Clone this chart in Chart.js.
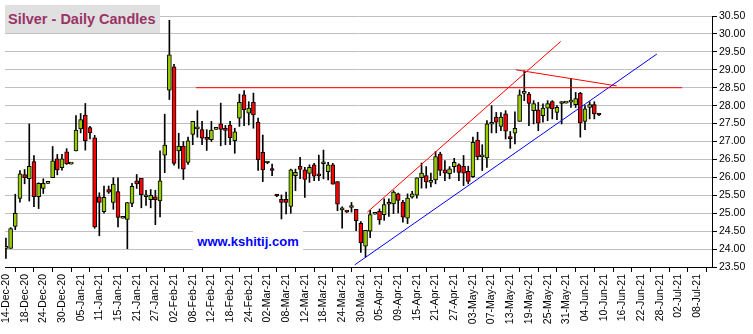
<!DOCTYPE html>
<html>
<head>
<meta charset="utf-8">
<title>Silver - Daily Candles</title>
<script src="https://cdn.jsdelivr.net/npm/chart.js@4.4.0/dist/chart.umd.min.js"></script>
<style>
    body { margin: 0; background: #fff; }
    #wrap { position: relative; width: 753px; height: 334px; }
    #title {
        position: absolute; left: 5px; top: 5px; width: 155px; height: 28px;
        background: #e0e0e0; color: #993366; box-sizing: border-box; padding-left: 3px;
        font: bold 14.5px 'Liberation Sans', Arial, sans-serif; line-height: 28px; white-space: nowrap;
    }
    #site {
        position: absolute; left: 193px; top: 229px; width: 110px; height: 25px;
        background: #fff; color: #0000ff; text-align: center;
        font: bold 13px 'Liberation Sans', Arial, sans-serif; line-height: 25px;
    }
</style>
</head>
<body>
<div id="wrap">
    <canvas id="chart"></canvas>
    <div id="title">Silver - Daily Candles</div>
    <div id="site">www.kshitij.com</div>
</div>
<script>
// Trading days from 14-Dec-20, one entry per weekday (holidays are flat)
const open = [24.02, 24.02, 24.63, 25.41, 26.08, 25.96, 26.44, 25.46, 25.69, 25.83,
    25.99, 26.52, 26.27, 26.71, 26.37, 26.74, 27.35, 27.74, 27.39, 27.10,
    25.46, 25.04, 25.66, 25.30, 25.60, 24.86, 24.83, 25.27, 25.90, 25.97,
    25.46, 25.38, 25.46, 25.34, 26.62, 28.43, 29.08, 26.74, 26.87, 26.42,
    27.20, 27.35, 27.33, 27.08, 27.05, 27.34, 27.49, 27.33, 27.46, 27.02,
    27.65, 28.30, 27.79, 28.09, 27.54, 26.70, 26.40, 26.21, 25.50, 25.39,
    25.39, 25.19, 26.05, 26.31, 26.21, 26.11, 26.35, 26.06, 26.38, 26.16,
    26.35, 25.88, 25.09, 25.05, 25.16, 25.11, 24.72, 24.08, 24.50, 24.97,
    25.05, 24.96, 25.25, 25.26, 25.54, 25.31, 24.86, 25.45, 25.50, 25.99,
    26.05, 25.86, 25.93, 26.65, 26.21, 26.10, 26.30, 26.35, 26.31, 26.17,
    26.02, 27.04, 26.57, 26.54, 27.48, 27.68, 27.42, 27.77, 27.10, 27.23,
    27.56, 28.34, 28.32, 27.86, 27.88, 27.72, 27.93, 28.11, 27.81, 28.06,
    28.07, 28.10, 28.03, 28.34, 27.56, 27.95, 28.03, 27.76];
const high = [24.31, 24.60, 25.53, 26.19, 26.22, 27.49, 26.61, 25.85, 25.96, 25.83,
    26.86, 26.64, 26.64, 26.80, 26.37, 27.72, 27.78, 28.06, 27.42, 27.17,
    25.57, 25.76, 25.76, 25.99, 25.99, 24.86, 25.30, 25.83, 26.08, 25.97,
    25.64, 25.66, 25.64, 26.74, 27.76, 30.38, 29.15, 27.23, 27.00, 27.12,
    27.56, 27.86, 27.56, 27.33, 27.56, 27.34, 28.07, 27.45, 27.56, 27.37,
    28.32, 28.42, 28.11, 28.35, 27.65, 27.18, 26.43, 26.37, 25.52, 25.51,
    25.59, 26.23, 26.23, 26.56, 26.28, 26.35, 26.39, 26.62, 26.76, 26.42,
    26.39, 25.88, 25.18, 25.06, 25.30, 25.11, 24.77, 24.52, 25.08, 24.97,
    25.12, 25.40, 25.40, 25.63, 25.56, 25.36, 25.54, 25.61, 25.99, 26.40,
    26.30, 26.12, 26.72, 26.70, 26.47, 26.30, 26.53, 26.38, 26.61, 26.31,
    27.12, 27.26, 26.91, 27.58, 28.00, 27.81, 27.81, 27.86, 27.28, 27.83,
    28.44, 28.97, 28.37, 28.14, 28.09, 28.05, 28.14, 28.14, 28.00, 28.11,
    28.07, 28.76, 28.37, 28.37, 28.00, 28.11, 28.11, 27.78];
const low = [23.74, 24.02, 24.54, 25.31, 25.82, 25.34, 25.18, 25.13, 25.55, 25.83,
    25.99, 26.07, 26.20, 26.36, 26.37, 26.74, 27.24, 26.76, 27.07, 24.58,
    24.37, 25.00, 25.55, 25.11, 24.62, 24.86, 24.01, 25.18, 25.69, 25.15,
    25.22, 25.15, 24.68, 24.90, 26.13, 28.17, 26.34, 26.25, 25.94, 26.36,
    26.91, 27.12, 26.91, 26.75, 27.00, 27.34, 26.88, 26.91, 26.91, 26.67,
    27.42, 27.44, 27.46, 27.37, 26.19, 25.88, 26.38, 26.05, 25.46, 24.84,
    24.98, 25.00, 25.63, 25.96, 25.44, 25.86, 25.91, 25.91, 25.96, 25.93,
    25.81, 25.07, 24.58, 25.02, 25.03, 24.51, 23.91, 23.78, 24.32, 24.97,
    24.69, 24.80, 24.91, 24.99, 25.01, 24.75, 24.71, 25.42, 25.42, 25.70,
    25.70, 25.73, 25.82, 26.05, 25.91, 25.96, 26.14, 25.91, 25.77, 25.82,
    26.00, 26.49, 26.19, 26.28, 27.24, 27.24, 27.30, 27.07, 26.81, 26.93,
    27.56, 28.14, 27.44, 27.49, 27.30, 27.54, 27.58, 27.63, 27.61, 27.49,
    28.07, 27.95, 27.95, 27.12, 27.33, 27.63, 27.63, 27.72];
const close = [24.04, 24.57, 25.00, 26.10, 25.99, 26.31, 25.46, 25.83, 25.83, 25.83,
    26.46, 26.21, 26.52, 26.38, 26.37, 27.32, 27.61, 27.02, 27.24, 24.62,
    25.30, 25.44, 25.59, 25.81, 24.88, 24.86, 25.30, 25.75, 25.82, 25.52,
    25.50, 25.50, 25.38, 25.90, 26.90, 29.42, 26.39, 26.87, 26.23, 27.02,
    27.56, 27.37, 27.09, 27.06, 27.32, 27.34, 27.34, 27.31, 27.11, 27.27,
    28.09, 27.89, 27.93, 27.74, 26.49, 26.21, 26.42, 26.19, 25.48, 25.30,
    25.30, 26.21, 26.14, 26.22, 25.94, 26.28, 26.03, 26.04, 26.40, 26.35,
    25.81, 25.25, 25.15, 25.03, 25.18, 24.79, 24.17, 24.52, 24.96, 24.97,
    24.81, 25.24, 25.27, 25.59, 25.36, 24.89, 25.42, 25.54, 25.99, 26.12,
    25.87, 25.88, 26.58, 26.19, 26.12, 26.24, 26.42, 26.14, 26.12, 25.89,
    26.98, 26.58, 26.59, 27.49, 27.50, 27.54, 27.68, 27.29, 27.08, 27.37,
    28.30, 28.36, 28.06, 28.06, 27.51, 27.93, 28.06, 27.91, 27.95, 28.08,
    28.07, 28.12, 28.20, 27.52, 27.91, 28.03, 27.77, 27.74];

// x-axis labels, one every 4 trading days starting at index 0
const tickLabels = ['14-Dec-20', '18-Dec-20', '24-Dec-20', '30-Dec-20', '05-Jan-21', '11-Jan-21',
    '15-Jan-21', '21-Jan-21', '27-Jan-21', '02-Feb-21', '08-Feb-21', '12-Feb-21', '18-Feb-21',
    '24-Feb-21', '02-Mar-21', '08-Mar-21', '12-Mar-21', '18-Mar-21', '24-Mar-21', '30-Mar-21',
    '05-Apr-21', '09-Apr-21', '15-Apr-21', '21-Apr-21', '27-Apr-21', '03-May-21', '07-May-21',
    '13-May-21', '19-May-21', '25-May-21', '31-May-21', '04-Jun-21', '10-Jun-21', '16-Jun-21',
    '22-Jun-21', '28-Jun-21', '02-Jul-21', '08-Jul-21'];

// Trend lines drawn on the chart (trading-day index, price)
const resistanceLine = [{ x: 40.7, y: 28.5 }, { x: 144.8, y: 28.5 }];
const upperChannel = [{ x: 77.4, y: 25.03 }, { x: 118.8, y: 29.79 }];
const lowerChannel = [{ x: 74.7, y: 23.56 }, { x: 139.4, y: 29.44 }];
const topLine = [{ x: 109.2, y: 29.0 }, { x: 130.8, y: 28.55 }];

const FONT = "'Liberation Sans', Arial, sans-serif";
const GREEN = '#99cc00';
const RED = '#ff0000';

const bodies = open.map((o, i) => ({ x: i, y: [o, close[i]] }));
const wicks = high.map((h, i) => ({ x: i, y: [low[i], h] }));
const bodyColors = open.map((o, i) => close[i] >= o ? GREEN : RED);

function lineSet(data, color) {
    return {
        type: 'line', data: data, borderColor: color, borderWidth: 1,
        pointRadius: 0, fill: false, order: 0
    };
}

new Chart(document.getElementById('chart'), {
    type: 'bar',
    data: {
        datasets: [
            {
                data: bodies, backgroundColor: bodyColors, borderColor: '#000', borderWidth: 1,
                borderSkipped: false, barThickness: 4, minBarLength: 2, grouped: false, order: 1
            },
            {
                data: wicks, backgroundColor: '#000', borderWidth: 0,
                barThickness: 1, grouped: false, order: 2
            },
            lineSet(resistanceLine, RED),
            lineSet(upperChannel, RED),
            lineSet(lowerChannel, '#0000ff'),
            lineSet(topLine, RED)
        ]
    },
    options: {
        responsive: true,
        maintainAspectRatio: false,
        animation: false,
        layout: { padding: { top: 16, left: 5, right: 0, bottom: 0 } },
        plugins: { legend: { display: false }, tooltip: { enabled: false } },
        scales: {
            x: {
                type: 'linear', min: -0.2, max: 151.2, offset: false,
                grid: { drawOnChartArea: false, tickLength: 5, tickColor: '#000' },
                border: { color: '#000' },
                afterBuildTicks: s => { s.ticks = tickLabels.map((_, k) => ({ value: k * 4 })); },
                afterFit: s => { s.height = 67; s.paddingLeft = 0; s.paddingRight = 0; },
                ticks: {
                    autoSkip: false, minRotation: 90, maxRotation: 90, padding: 2, color: '#000',
                    font: { family: FONT, size: 10.5 },
                    callback: v => tickLabels[Math.round(v / 4)]
                }
            },
            y: {
                position: 'right', min: 23.5, max: 30.5,
                grid: { color: '#c0c0c0', tickColor: '#000', tickLength: 5 },
                border: { color: '#000' },
                afterFit: s => { s.width = 41; s.paddingTop = 0; s.paddingBottom = 0; },
                ticks: {
                    stepSize: 0.5, padding: 2, color: '#000',
                    font: { family: FONT, size: 10.5 },
                    callback: v => v.toFixed(2)
                }
            }
        }
    }
});
</script>
</body>
</html>
